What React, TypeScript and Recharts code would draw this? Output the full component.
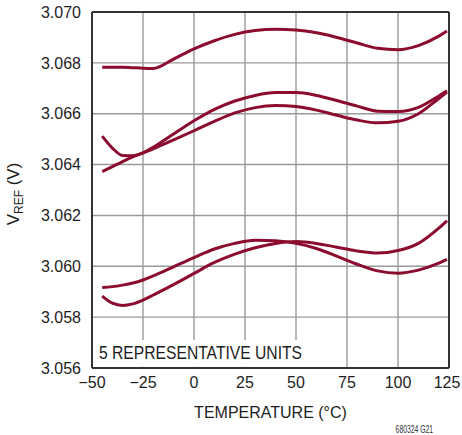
import React from 'react';
import {
  LineChart,
  Line,
  XAxis,
  YAxis,
  CartesianGrid,
  ReferenceLine,
  ReferenceArea,
} from 'recharts';

// temperature points (°C)
const temps = [-45, -40, -35, -30, -25, -20, -10, 0, 10, 20, 30, 40, 50, 60, 70, 80, 90, 100, 110, 120, 124];

// VREF of five units (V)
const unit1 = [3.06783, 3.06783, 3.06783, 3.06781, 3.06779, 3.06778, 3.06815, 3.06855, 3.06887, 3.06912, 3.06927, 3.06932, 3.06929, 3.06918, 3.069, 3.06878, 3.06857, 3.06852, 3.06868, 3.06905, 3.06925];
const unit2 = [3.06512, 3.06465, 3.06436, 3.06435, 3.06446, 3.06468, 3.0652, 3.06572, 3.06617, 3.0665, 3.06672, 3.06683, 3.06683, 3.06672, 3.06652, 3.0663, 3.0661, 3.06609, 3.06625, 3.0667, 3.0669];
const unit3 = [3.06372, 3.06392, 3.06412, 3.0643, 3.06446, 3.06462, 3.06497, 3.06533, 3.0657, 3.06603, 3.06624, 3.06632, 3.06628, 3.06614, 3.06594, 3.06575, 3.06564, 3.0657, 3.066, 3.0666, 3.06685];
const unit4 = [3.05917, 3.0592, 3.05926, 3.05934, 3.05946, 3.05962, 3.05998, 3.06034, 3.06068, 3.0609, 3.06102, 3.061, 3.0609, 3.0607, 3.0604, 3.06008, 3.05982, 3.05973, 3.05985, 3.06012, 3.06027];
const unit5 = [3.05883, 3.05855, 3.05846, 3.05852, 3.05867, 3.05887, 3.05928, 3.05972, 3.06015, 3.06048, 3.06073, 3.0609, 3.06097, 3.0609, 3.06075, 3.0606, 3.06052, 3.06062, 3.0609, 3.0615, 3.06179];

const xTicks = [-50, -25, 0, 25, 50, 75, 100, 125];
const yTicks = [3.056, 3.058, 3.06, 3.062, 3.064, 3.066, 3.068, 3.07];

const units = ['unit1', 'unit2', 'unit3', 'unit4', 'unit5'];

const data = temps.map((t, i) => ({
  t,
  unit1: unit1[i],
  unit2: unit2[i],
  unit3: unit3[i],
  unit4: unit4[i],
  unit5: unit5[i],
}));

const FONT = '"Liberation Sans", Arial, sans-serif';
const LINE = '#8c0c30';
const INK = '#1e1e1e';

const fmtX = (v: number) => (v < 0 ? `\u2212${Math.abs(v)}` : `${v}`);

// x tick, last one nudged in so it stays inside the page
function XTick(props: any) {
  const { x, y, payload } = props;
  const shift = payload.value === 125 ? -2 : 0;
  return (
    <text x={x + shift} y={y} dy="0.71em" textAnchor="middle" fontFamily={FONT} fontSize={16} fill={INK}>
      {fmtX(payload.value)}
    </text>
  );
}

function VrefLabel(props: any) {
  const vb = props.viewBox || { x: 0, y: 0, width: 92, height: 356 };
  const cx = vb.x + 19;
  const cy = vb.y + vb.height / 2 + 4;
  return (
    <text
      x={cx}
      y={cy}
      transform={`rotate(-90 ${cx} ${cy})`}
      textAnchor="middle"
      fontFamily={FONT}
      fontSize={17}
      fill={INK}
    >
      <tspan>V</tspan>
      <tspan fontSize={12} dy={4}>REF</tspan>
      <tspan dy={-4}> (V)</tspan>
    </text>
  );
}

function UnitsNote(props: any) {
  const vb = props.viewBox || { x: 0, y: 0, width: 0, height: 0 };
  return (
    <text
      x={vb.x + 7}
      y={vb.y + vb.height - 7.5}
      fontFamily={FONT}
      fontSize={18.5}
      textLength={203}
      lengthAdjust="spacingAndGlyphs"
      fill={INK}
    >
      5 REPRESENTATIVE UNITS
    </text>
  );
}

export default function App() {
  return (
    <div style={{ position: 'absolute', left: 0, top: 0, width: 462, height: 435, background: '#fff' }}>
      <LineChart width={462} height={435} data={data} margin={{ top: 12, right: 13, bottom: 0, left: 0 }}>
        <CartesianGrid stroke="#9a9a9a" strokeWidth={1.4} />
        <XAxis
          type="number"
          dataKey="t"
          domain={[-50, 125]}
          ticks={xTicks}
          height={67}
          tickSize={0}
          tickMargin={9}
          axisLine={{ stroke: '#333', strokeWidth: 2 }}
          tick={<XTick />}
          label={{
            value: 'TEMPERATURE (°C)',
            position: 'insideBottom',
            offset: 17,
            fontSize: 16,
            fontFamily: FONT,
            fill: INK,
          }}
        />
        <YAxis
          type="number"
          domain={[3.056, 3.07]}
          ticks={yTicks}
          tickFormatter={(v: number) => v.toFixed(3)}
          width={92}
          tickSize={0}
          tickMargin={11}
          axisLine={{ stroke: '#333', strokeWidth: 2 }}
          tick={{ fontSize: 16, fontFamily: FONT, fill: INK }}
          label={<VrefLabel />}
        />
        {/* top and right edges of the frame */}
        <ReferenceLine x={125} stroke="#333" strokeWidth={2} />
        <ReferenceLine y={3.07} stroke="#333" strokeWidth={2} />
        <ReferenceArea
          x1={-50}
          x2={54}
          y1={3.05605}
          y2={3.0571}
          fill="#fff"
          fillOpacity={1}
          stroke="none"
          label={<UnitsNote />}
        />
        {units.map((k) => (
          <Line
            key={k}
            type="monotone"
            dataKey={k}
            stroke={LINE}
            strokeWidth={3}
            dot={false}
            isAnimationActive={false}
          />
        ))}
      </LineChart>
      <div
        style={{
          position: 'absolute',
          right: 29,
          top: 425,
          fontFamily: FONT,
          fontSize: 10,
          color: '#333',
          lineHeight: '10px',
          transform: 'scaleX(0.68)',
          transformOrigin: 'right center',
          whiteSpace: 'nowrap',
        }}
      >
        680324 G21
      </div>
    </div>
  );
}
